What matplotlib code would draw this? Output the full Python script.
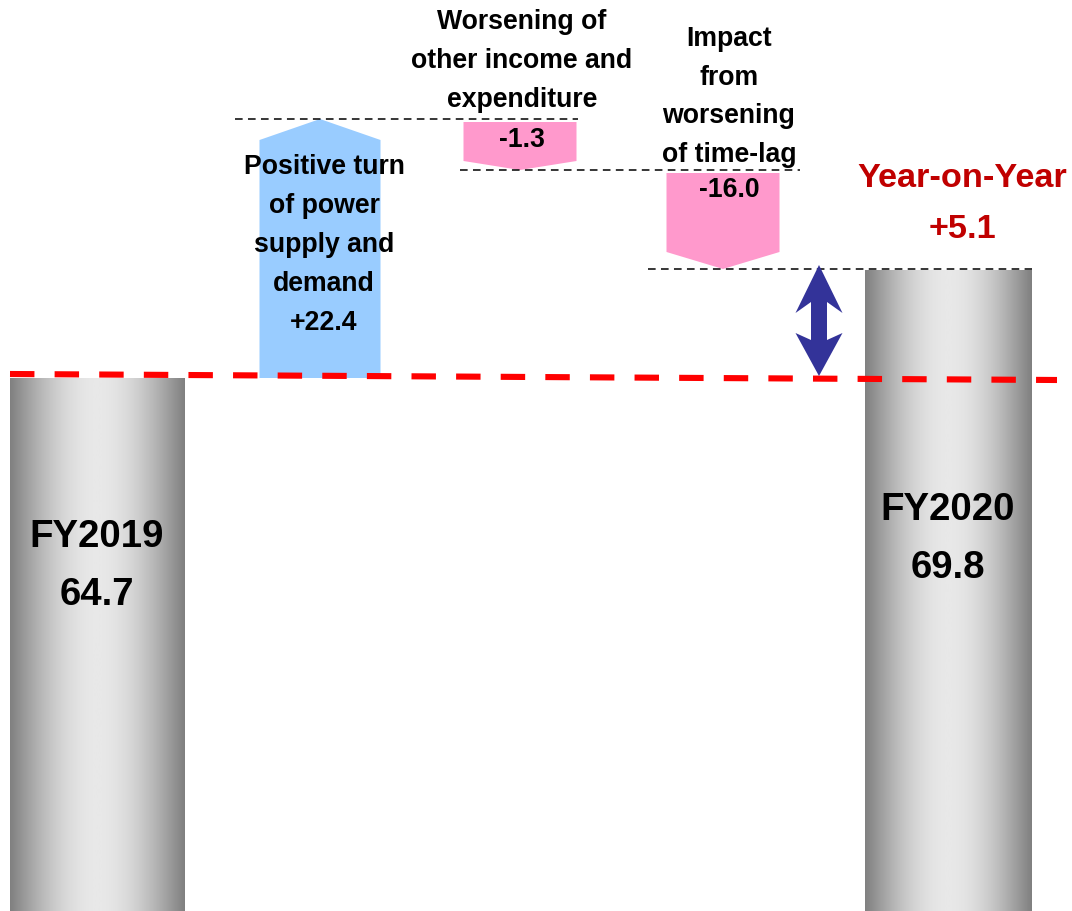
import numpy as np
import matplotlib
matplotlib.use("Agg")
import matplotlib.pyplot as plt
from matplotlib import font_manager
from matplotlib.patches import Polygon
from matplotlib.colors import LinearSegmentedColormap

# values shown on the chart
start_label, start_value = "FY2019", 64.7
end_label, end_value = "FY2020", 69.8
step_names = ["Positive turn\nof power\nsupply and\ndemand",
              "Worsening of\nother income and\nexpenditure",
              "Impact\nfrom\nworsening\nof time-lag"]
step_values = [22.4, -1.3, -16.0]
yoy_value = 5.1

# drawn heights (chart is schematic, not to scale)
start_height = 533
step_heights = [259, -51, -99]
end_height = 641

# pick a narrow bold face if we have one
try:
    font_manager.findfont("Liberation Sans Narrow", fallback_to_default=False)
    family = ["Liberation Sans Narrow", "DejaVu Sans"]
    k, ls = 1.0, 1.0
except Exception:
    family = ["Liberation Sans", "DejaVu Sans"]
    k, ls = 0.85, 1.2

fig = plt.figure(figsize=(10.72, 9.11), dpi=100)
ax = fig.add_axes([0, 0, 1, 1])
ax.set_xlim(0, 1072)
ax.set_ylim(0, 911)
ax.axis("off")

gray = LinearSegmentedColormap.from_list("g", ["#808080", "#e8e8e8"])


def grad_bar(x0, x1, top):
    t = np.linspace(0, 1, 256)
    g = np.sin(np.pi * t)[None, :]
    ax.imshow(g, cmap=gray, vmin=0, vmax=1, aspect="auto",
              extent=(x0, x1, 0, top), zorder=1, interpolation="bilinear")


grad_bar(10, 185, start_height)
grad_bar(865, 1032, end_height)

# levels after each step
levels = np.cumsum([start_height] + step_heights)

# red reference line at FY2019 level
ax.plot([10, 1057], [start_height + 4, start_height - 2], color="#ff0000",
        lw=4.4, dashes=(4, 3.3), zorder=3)

# step arrows
centers = [320, 520, 723]
widths = [121, 113, 113]
heads = [21, 9, 17]
colors = ["#99ccff", "#ff99cc", "#ff99cc"]
for i, v in enumerate(step_heights):
    cx, w, hd = centers[i], widths[i], heads[i]
    lo, hi = levels[i], levels[i + 1]
    if v > 0:
        pts = [(cx - w / 2, lo), (cx + w / 2, lo), (cx + w / 2, hi - hd),
               (cx, hi), (cx - w / 2, hi - hd)]
    else:
        top = lo - 3
        pts = [(cx - w / 2, top), (cx + w / 2, top), (cx + w / 2, hi + hd),
               (cx, hi), (cx - w / 2, hi + hd)]
    ax.add_patch(Polygon(pts, closed=True, facecolor=colors[i],
                         edgecolor="none", zorder=2))

# thin black guide lines at each level
guides = [(235, 578), (460, 800), (648, 1032)]
for (x0, x1), lv in zip(guides, levels[1:]):
    ax.plot([x0, x1], [lv, lv], color="black", lw=1.1, dashes=(5, 3.5),
            zorder=4)

# double arrow for year-on-year change
ax_x, top, bot = 819, levels[-1] + 4, start_height + 2
hw, sw, hl, barb = 23.5, 8, 48, 11
arrow = [(ax_x, top), (ax_x + hw, top - hl), (ax_x + sw, top - hl + barb),
         (ax_x + sw, bot + hl - barb - 1), (ax_x + hw, bot + hl - 5),
         (ax_x, bot),
         (ax_x - hw, bot + hl - 5), (ax_x - sw, bot + hl - barb - 1),
         (ax_x - sw, top - hl + barb), (ax_x - hw, top - hl)]
ax.add_patch(Polygon(arrow, closed=True, facecolor="#333399",
                     edgecolor="none", zorder=5))

# texts
big = dict(family=family, weight="bold", color="black", ha="center",
           va="center", zorder=6)
ax.text(97, 345, f"{start_label}\n{start_value}", fontsize=32.5 * k,
        linespacing=1.48 * ls, **big)
ax.text(948, 372, f"{end_label}\n{end_value}", fontsize=32.5 * k,
        linespacing=1.48 * ls, **big)
ax.text(962, 707, f"Year-on-Year\n+{yoy_value}", fontsize=29 * k,
        linespacing=1.52 * ls, **dict(big, color="#c00000"))

ax.text(324, 666, f"{step_names[0]}\n+{step_values[0]}", fontsize=22.5 * k,
        linespacing=1.38 * ls, **big)
ax.text(522, 850, step_names[1], fontsize=22.5 * k,
        linespacing=1.38 * ls, **big)
ax.text(522, 771, f"{step_values[1]}", fontsize=22.5 * k, **big)
ax.text(729, 814, step_names[2], fontsize=22.5 * k,
        linespacing=1.35 * ls, **big)
ax.text(729, 721, f"{step_values[2]}", fontsize=22.5 * k, **big)

fig.savefig("out.png", dpi=100)
